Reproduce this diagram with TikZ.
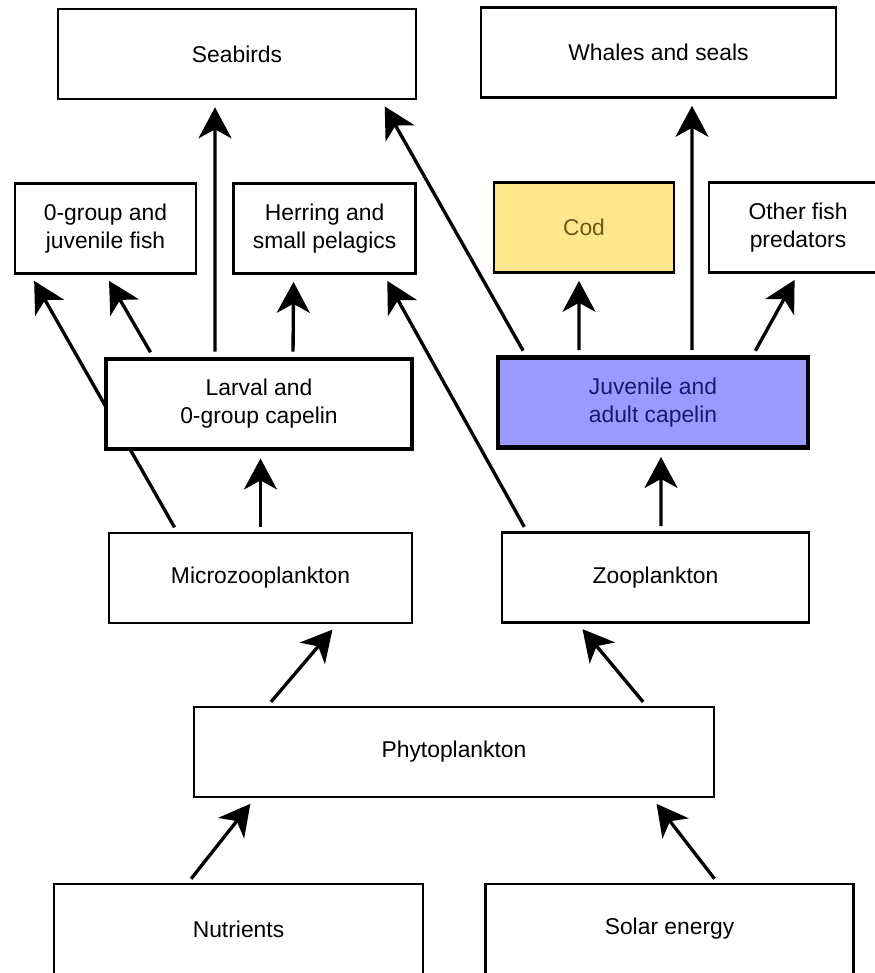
\documentclass[tikz,border=0pt]{standalone}
\usepackage{fontspec}
\setmainfont{Liberation Sans}
\usepackage{tikz}
\usetikzlibrary{arrows.meta,shapes,positioning,backgrounds}
\usepackage{xcolor}
\definecolor{codyellow}{RGB}{253,230,140}
\definecolor{codtext}{RGB}{105,90,20}
\definecolor{capblue}{RGB}{153,153,255}
\definecolor{captext}{RGB}{25,25,110}
\tikzstyle{arrow} = [line width=1.9pt,-{Stealth[length=0.62cm,width=0.66cm,inset=0.18cm]},shorten >=0.14cm,shorten <=0.1cm]
\tikzstyle{box} = [rectangle, minimum height=1.8cm, text centered, align=center, draw=black, fill=white, line width=1.5pt]
\tikzstyle{capelin} = [box, line width=2.8pt]

\begin{document}
\begin{tikzpicture}[x=0.02cm,y=-0.02cm,font=\fontsize{13}{16}\selectfont]
\useasboundingbox (0,0) rectangle (875,973);
\clip (0,0) rectangle (875,973);
\node[box, minimum width=7.16cm] (seabirds) at (237,54) {Seabirds};
\node[box, minimum width=7.1cm] (whales) at (658.5,52.5) {Whales and seals};
\node[box, minimum width=3.62cm] (juvfish) at (105.5,228.5) {0-group and\\juvenile fish};
\node[box, minimum width=3.64cm, right=0.7cm of juvfish] (herring) {Herring and\\small pelagics};
\node[box, minimum width=3.6cm, fill=codyellow, text=codtext] (cod) at (584,227.5) {Cod};
\node[box, minimum width=3.56cm] (otherfish) at (798,227.5) {Other fish\\predators};
\node[capelin, minimum width=6.12cm] (larval) at (259,404) {Larval and\\0-group capelin};
\node[capelin, minimum width=6.2cm, fill=capblue, text=captext] (juvenile) at (653,402.5) {Juvenile and\\adult capelin};
\node[box, minimum width=6.06cm] (microzoo) at (260.5,578) {Microzooplankton};
\node[box, minimum width=6.14cm] (zoo) at (655.5,577.5) {Zooplankton};
\node[box, minimum width=10.4cm] (phyto) at (454,752) {Phytoplankton};
\node[box, minimum width=7.38cm] (nutrients) at (238.5,929) {Nutrients};
\node[box, minimum width=7.36cm, right=1.2cm of nutrients] (solar) {Solar energy};
\begin{scope}[on background layer]
\draw[arrow] ([xshift=-1.67cm]microzoo.north) -- ([xshift=0.34cm]juvfish.south west);
\end{scope}
\draw[arrow] ([xshift=-0.88cm]larval.north) -- ([xshift=-0.44cm]seabirds.south);
\draw[arrow] ([xshift=0.68cm]larval.north) -- ([xshift=-0.62cm]herring.south);
\draw[arrow] ([xshift=-2.12cm]larval.north) -- (juvfish.south);
\draw[arrow] ([xshift=0.6cm]juvenile.north west) -- ([xshift=-0.72cm]seabirds.south east);
\draw[arrow] ([xshift=0.52cm]zoo.north west) -- ([xshift=-0.66cm]herring.south east);
\draw[arrow] ([xshift=-1.48cm]juvenile.north) -- ([xshift=-0.1cm]cod.south);
\draw[arrow] ([xshift=0.78cm]juvenile.north) -- ([xshift=0.67cm]whales.south);
\draw[arrow] ([xshift=2cm]juvenile.north) -- (otherfish.south);
\draw[arrow] (microzoo.north) -- (microzoo.north |- larval.south);
\draw[arrow] ([xshift=0.11cm]zoo.north) -- ([xshift=0.16cm]juvenile.south);
\draw[arrow] ([xshift=1.5cm]phyto.north west) -- ([xshift=1.53cm]microzoo.south);
\draw[arrow] ([xshift=-1.38cm]phyto.north east) -- ([xshift=-1.55cm]zoo.south);
\draw[arrow] ([xshift=-1.01cm]nutrients.north) -- ([xshift=1.24cm]phyto.south west);
\draw[arrow] ([xshift=0.96cm]solar.north) -- ([xshift=-1.26cm]phyto.south east);
\end{tikzpicture}
\end{document}
